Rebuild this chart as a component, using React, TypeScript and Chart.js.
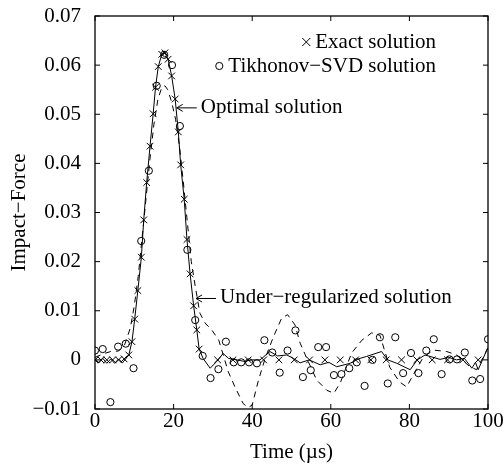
import React, { useEffect, useRef } from "react";
import { Chart, registerables } from "chart.js";

Chart.register(...registerables);

// ---- Data ----
const exactX = [0, 1.5, 3, 4.5, 6, 7.4, 8.6, 9.4, 10.1, 10.9, 11.8, 12.4, 13.15, 14.0, 14.8, 15.4, 16.1, 17.0, 17.8, 18.6, 19.5, 20.4, 21.2, 21.8, 22.7, 23.4, 24.2, 25.1, 25.9, 26.5, 31.2, 35.1, 39.0, 42.9, 46.8, 50.7, 54.6, 58.5, 62.4, 66.3, 70.2, 74.1, 78.0, 81.9, 85.8, 89.7, 93.6, 97.5];
const exactY = [0, 0, 0, 0, 0, 0.0002, 0.0010, 0.0037, 0.0083, 0.0141, 0.0209, 0.0285, 0.0361, 0.0435, 0.0501, 0.0555, 0.0597, 0.0622, 0.0625, 0.0612, 0.0578, 0.0531, 0.0464, 0.0397, 0.0327, 0.0245, 0.0175, 0.0110, 0.0061, 0.0022, 0, 0, 0, 0, 0, 0, 0, 0, 0, 0, 0, 0, 0, 0, 0, 0, 0, 0];

const tikhonovX = [0, 1.96, 3.92, 5.88, 7.84, 9.8, 11.76, 13.7, 15.7, 17.6, 19.6, 21.6, 23.5, 25.5, 27.4, 29.4, 31.4, 33.3, 35.3, 37.2, 39.2, 41.2, 43.1, 45.1, 47.0, 49.0, 51.0, 52.9, 54.9, 56.8, 58.8, 60.8, 62.7, 64.7, 66.6, 68.6, 70.6, 72.5, 74.5, 76.4, 78.4, 80.4, 82.3, 84.3, 86.2, 88.2, 90.2, 92.1, 94.1, 96.0, 98.0, 100];
const tikhonovY = [0.0019, 0.0022, -0.0086, 0.0027, 0.0033, -0.0017, 0.0242, 0.0385, 0.0558, 0.0621, 0.0600, 0.0476, 0.0224, 0.0081, 0.0008, -0.0037, -0.0019, 0.0037, -0.0005, -0.0005, -0.0005, -0.0007, 0.0040, 0.0015, -0.0026, 0.0019, 0.0060, -0.0035, -0.0021, 0.0026, 0.0026, -0.0031, -0.0029, -0.0017, -0.0005, -0.0053, 0.0000, 0.0046, -0.0048, 0.0046, -0.0027, 0.0014, -0.0027, 0.0019, 0.0042, -0.0029, 0.0001, 0.0001, 0.0015, -0.0042, -0.0039, 0.0042];

const optimalX = [0, 1, 2, 3, 4, 5, 6, 7, 8, 8.6, 9.4, 10.1, 10.9, 11.8, 12.4, 13.15, 14.0, 14.8, 15.4, 16.1, 17.0, 17.8, 18.6, 19.5, 20.4, 21.2, 21.8, 22.7, 23.4, 24.2, 25.1, 25.9, 26.5, 27.5, 29.3, 31, 32.6, 34, 36, 38, 40, 42, 44.5, 46.5, 48.8, 50.5, 52.2, 54.5, 57.3, 59.5, 61.5, 64.9, 67, 69.1, 72.9, 74.5, 76.8, 80.2, 82, 84, 87.8, 90, 92, 94, 95.9, 96.8, 97.5, 99.7, 100];
const optimalY = [0.0002, -0.0006, 0.0003, -0.0007, 0.0002, -0.0007, 0.0002, -0.0006, 0.0004, 0.0010, 0.0037, 0.0083, 0.0141, 0.0209, 0.0285, 0.0361, 0.0435, 0.0501, 0.0555, 0.0597, 0.0622, 0.0625, 0.0612, 0.0578, 0.0531, 0.0464, 0.0397, 0.0327, 0.0245, 0.0175, 0.0110, 0.0061, 0.0022, 0.0003, -0.0017, -0.0003, 0.0013, 0.0003, 0, -0.0003, 0, 0, 0.0017, 0.0008, 0.0010, 0.0003, -0.0006, 0, -0.0010, -0.0005, -0.0014, -0.0007, 0.0002, 0.0007, 0.0017, 0, -0.0007, -0.0020, 0, 0.0010, 0.0001, 0.0005, 0, 0.0003, -0.0017, -0.0005, -0.0020, 0.0020, 0.0025];

const underX = [0, 2, 4, 6, 7.5, 9, 10, 11, 12, 13, 14, 15, 16, 17, 17.8, 18.5, 19.5, 20.5, 21.5, 22.5, 23.5, 24.5, 25.5, 26.7, 28, 29.7, 31.5, 33.9, 35.6, 37.7, 39, 40, 41.6, 43.3, 45.4, 47.5, 49, 50.9, 52.2, 53.9, 56.4, 59, 60.8, 62.5, 65.3, 67.9, 70.4, 72.5, 75, 77.5, 79.3, 81, 83.5, 86.1, 89.5, 92, 95.4, 97.1, 99.7, 100];
const underY = [0.0005, 0.0012, 0.0017, 0.0018, 0.0030, 0.0065, 0.0110, 0.0170, 0.0250, 0.0330, 0.0410, 0.0480, 0.0530, 0.0555, 0.0558, 0.0550, 0.0525, 0.0490, 0.0435, 0.0360, 0.0280, 0.0200, 0.0150, 0.0095, 0.0075, 0.0061, 0.0040, -0.0024, -0.0055, -0.0089, -0.0097, -0.0092, -0.0041, 0.0003, 0.0047, 0.0085, 0.0092, 0.0071, 0.0034, 0.0003, -0.0041, -0.0062, -0.0068, -0.0045, 0.0014, 0.0040, 0.0055, 0.0050, -0.0015, -0.0045, -0.0055, -0.0030, 0.0005, 0.0020, 0.0017, 0.0010, -0.0014, -0.0020, 0.0020, 0.0025];

const xTickValues = [0, 20, 40, 60, 80, 100];
const xTickLabels = ["0", "20", "40", "60", "80", "100"];
const yTickValues = [-0.01, 0, 0.01, 0.02, 0.03, 0.04, 0.05, 0.06, 0.07];
const yTickLabels = ["\u22120.01", "0", "0.01", "0.02", "0.03", "0.04", "0.05", "0.06", "0.07"];

const legendLabels = ["Exact solution", "Tikhonov\u2212SVD solution"];
const annotationTexts = ["Optimal solution", "Under\u2212regularized solution"];
const annotationX = [20.8, 25.7];
const annotationY = [0.0513, 0.0125];

const FONT = "'Liberation Serif', 'Times New Roman', serif";

const pts = (xs: number[], ys: number[]) => xs.map((x, i) => ({ x, y: ys[i] }));

const framePlugin = {
  id: "frame",
  afterDraw(chart: any) {
    const { ctx, chartArea } = chart;
    const { left, right, top, bottom } = chartArea;
    const xs = chart.scales.x;
    const ys = chart.scales.y;
    ctx.save();
    ctx.strokeStyle = "#000";
    ctx.lineWidth = 1.3;
    ctx.strokeRect(left, top, right - left, bottom - top);
    ctx.lineWidth = 1;
    const line = (x1: number, y1: number, x2: number, y2: number) => {
      ctx.beginPath();
      ctx.moveTo(x1, y1);
      ctx.lineTo(x2, y2);
      ctx.stroke();
    };
    for (const v of xTickValues) {
      const px = xs.getPixelForValue(v);
      line(px, bottom, px, bottom - 5);
      line(px, top, px, top + 5);
    }
    for (const v of yTickValues) {
      const py = ys.getPixelForValue(v);
      line(left, py, left + 5, py);
      line(right, py, right - 5, py);
    }

    // legend
    ctx.font = `21px ${FONT}`;
    ctx.fillStyle = "#000";
    ctx.textAlign = "left";
    ctx.textBaseline = "alphabetic";
    const legRight = right - 52;
    const legBase = [top + 32, top + 56];
    legendLabels.forEach((t, i) => {
      const w = ctx.measureText(t).width;
      const sx = legRight - w;
      ctx.fillText(t, sx, legBase[i]);
      const mx = sx - 9;
      const my = legBase[i] - 6;
      if (i === 0) {
        const r = 4;
        line(mx - r, my - r, mx + r, my + r);
        line(mx - r, my + r, mx + r, my - r);
      } else {
        ctx.beginPath();
        ctx.arc(mx, my, 3.6, 0, Math.PI * 2);
        ctx.stroke();
      }
    });

    // annotations with arrows
    annotationTexts.forEach((t, i) => {
      const ax = xs.getPixelForValue(annotationX[i]);
      const ay = ys.getPixelForValue(annotationY[i]);
      line(ax, ay, ax + 20, ay);
      line(ax, ay, ax + 6, ay - 3.5);
      line(ax, ay, ax + 6, ay + 3.5);
      ctx.fillText(t, ax + 24, ay + 5);
    });
    ctx.restore();
  },
};

export default function App() {
  const ref = useRef<HTMLCanvasElement | null>(null);
  useEffect(() => {
    document.body.style.margin = "0";
    const canvas = ref.current;
    if (!canvas) return;
    Chart.defaults.font.family = FONT;
    const chart = new Chart(canvas, {
      type: "line",
      data: {
        datasets: [
          {
            label: "Exact solution",
            data: pts(exactX, exactY),
            showLine: false,
            pointStyle: "crossRot",
            pointRadius: 4.7,
            pointBorderWidth: 1,
            borderColor: "#000",
            backgroundColor: "#000",
          },
          {
            label: "Tikhonov-SVD solution",
            data: pts(tikhonovX, tikhonovY),
            showLine: false,
            pointStyle: "circle",
            pointRadius: 3.6,
            pointBorderWidth: 1,
            borderColor: "#000",
            backgroundColor: "rgba(0,0,0,0)",
          },
          {
            label: "Optimal solution",
            data: pts(optimalX, optimalY),
            pointRadius: 0,
            borderWidth: 1,
            borderColor: "#000",
            tension: 0,
          },
          {
            label: "Under-regularized solution",
            data: pts(underX, underY),
            pointRadius: 0,
            borderWidth: 1,
            borderColor: "#000",
            borderDash: [6, 5],
            tension: 0,
          },
        ],
      },
      options: {
        animation: false,
        responsive: false,
        layout: { padding: { left: 0, right: 16, top: 16, bottom: 0 } },
        plugins: { legend: { display: false }, tooltip: { enabled: false } },
        scales: {
          x: {
            type: "linear",
            min: 0,
            max: 100,
            afterFit: (s: any) => {
              s.height = 58;
              s.paddingLeft = 0;
              s.paddingRight = 0;
            },
            afterBuildTicks: (s: any) => {
              s.ticks = xTickValues.map((v) => ({ value: v }));
            },
            grid: { display: false, drawTicks: false },
            border: { display: false },
            ticks: {
              padding: 0,
              color: "#000",
              font: { size: 21, family: FONT },
              maxRotation: 0,
              autoSkip: false,
              callback: (_v: any, i: number) => xTickLabels[i],
            },
            title: {
              display: true,
              text: "Time (\u00b5s)",
              color: "#000",
              font: { size: 21, family: FONT },
              padding: { top: 0, bottom: 2 },
            },
          },
          y: {
            type: "linear",
            min: -0.01,
            max: 0.07,
            afterFit: (s: any) => {
              s.width = 95;
              s.paddingTop = 0;
              s.paddingBottom = 0;
            },
            afterBuildTicks: (s: any) => {
              s.ticks = yTickValues.map((v) => ({ value: v }));
            },
            grid: { display: false, drawTicks: false },
            border: { display: false },
            ticks: {
              padding: 14,
              color: "#000",
              font: { size: 21, family: FONT },
              autoSkip: false,
              callback: (_v: any, i: number) => yTickLabels[i],
            },
            title: {
              display: true,
              text: "Impact\u2212Force",
              color: "#000",
              font: { size: 21, family: FONT },
              padding: { top: 7, bottom: 0 },
            },
          },
        },
      },
      plugins: [framePlugin],
    } as any);
    return () => chart.destroy();
  }, []);
  return (
    <div style={{ width: 504, height: 467, background: "#fff" }}>
      <canvas ref={ref} width={504} height={467} />
    </div>
  );
}
